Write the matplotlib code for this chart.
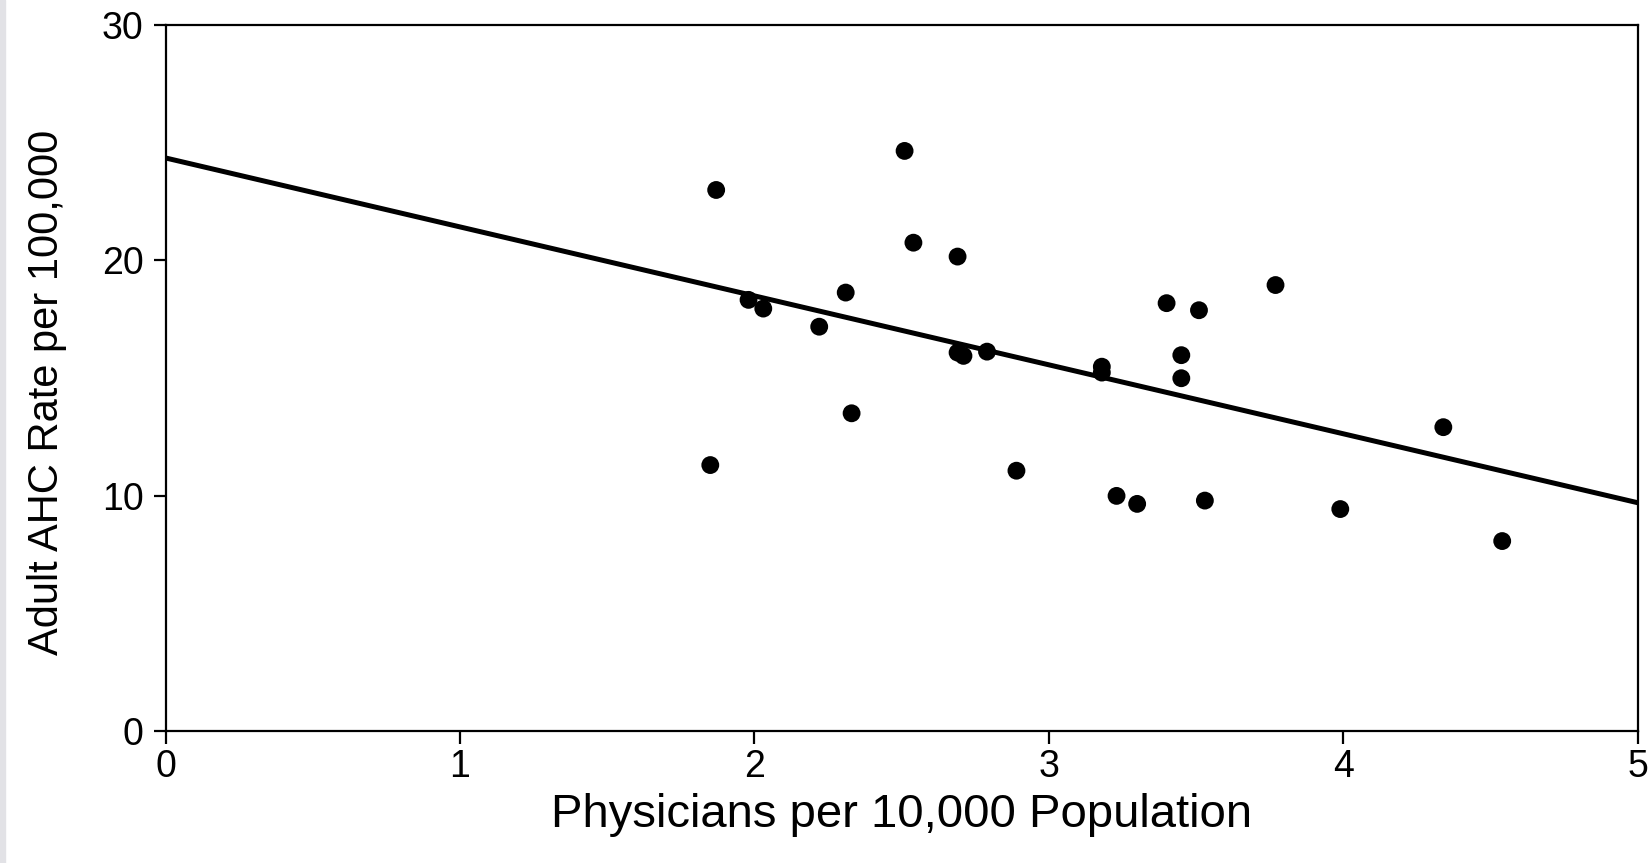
import matplotlib
matplotlib.use('Agg')
import matplotlib.pyplot as plt
from matplotlib.patches import Rectangle

# physicians per 10,000 population vs adult AHC rate per 100,000
physicians = [2.51, 1.87, 2.54, 2.69, 2.31, 1.98, 2.03, 2.22, 2.69, 2.71,
              2.79, 3.18, 3.18, 2.33, 1.85, 2.89, 3.23, 3.30, 3.40, 3.51,
              3.77, 3.45, 3.45, 3.53, 3.99, 4.34, 4.54]
ahc_rate = [24.65, 22.99, 20.75, 20.16, 18.63, 18.32, 17.95, 17.18, 16.08, 15.94,
            16.12, 15.48, 15.23, 13.50, 11.30, 11.06, 9.99, 9.65, 18.18, 17.88,
            18.95, 15.97, 14.99, 9.79, 9.43, 12.91, 8.07]

# regression line end points
fit_x = [0, 5]
fit_y = [24.35, 9.70]

x_ticks = [0, 1, 2, 3, 4, 5]
y_ticks = [0, 10, 20, 30]

plt.rcParams['font.family'] = ['Liberation Sans', 'DejaVu Sans']

fig = plt.figure(figsize=(16.5, 8.63), dpi=100)
fig.patches.append(Rectangle((0, 0), 5 / 1650, 1, transform=fig.transFigure,
                             color='#e2e2e6', zorder=-1))
ax = fig.add_axes([0.1004, 0.153, 0.8921, 0.818])

ax.plot(fit_x, fit_y, color='black', lw=3.6, solid_capstyle='butt', zorder=2)
ax.scatter(physicians, ahc_rate, s=165, color='black', marker='o',
           edgecolors='none', zorder=3)

ax.set_xlim(0, 5)
ax.set_ylim(0, 30)
ax.set_xticks(x_ticks)
ax.set_yticks(y_ticks)
ax.tick_params(direction='out', length=9, width=1.6, labelsize=27)
ax.tick_params(axis='x', pad=4)
ax.tick_params(axis='y', pad=7)
for s in ax.spines.values():
    s.set_linewidth(1.6)

ax.set_xlabel('Physicians per 10,000 Population', fontsize=34, labelpad=6)
ax.set_ylabel('Adult AHC Rate per 100,000', fontsize=30)
ax.yaxis.set_label_coords(-0.067, 0.48)

fig.savefig('out.png', dpi=100)
